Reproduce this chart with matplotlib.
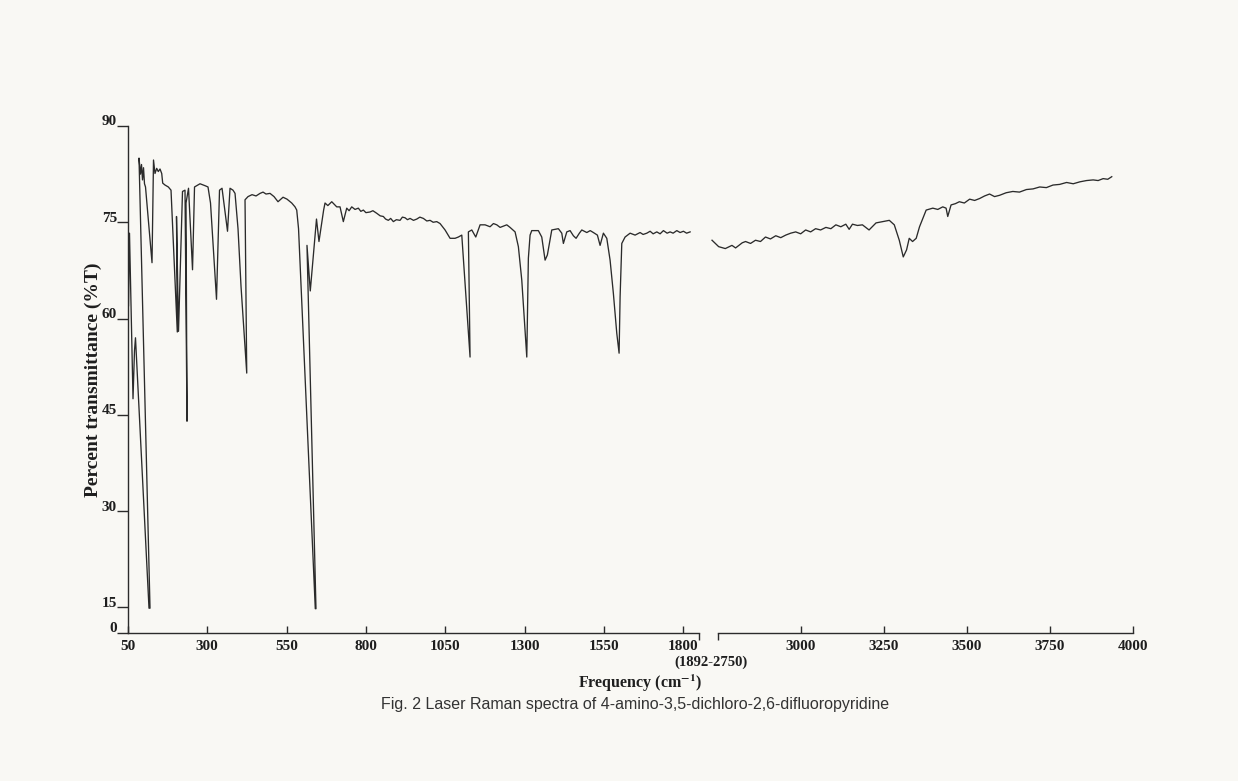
import numpy as np
import matplotlib
matplotlib.use("Agg")
import matplotlib.pyplot as plt
from matplotlib.transforms import ScaledTranslation

# Raman trace, low-frequency part (cm-1, %T) in drawing order
left_wn = [51.6, 54.7, 59.5, 65.8, 70.5, 73.6, 116.2, 119.4, 84.7, 89.4, 92.6, 95.7,
           98.9, 102.0, 105.2, 125.7, 130.4, 135.1, 140.5, 145.5, 150.9, 156.3, 159.4,
           166.7, 177.1, 185.6, 205.4, 202.9, 209.2, 221.8, 229.7, 236.0, 232.9, 240.8,
           253.4, 259.7, 277.0, 292.8, 302.2, 310.1, 329.0, 338.5, 346.4, 363.7, 371.6,
           381.0, 387.4, 396.8, 406.3, 424.3, 418.9, 428.4, 441.0, 453.6, 466.2, 475.7,
           485.1, 497.7, 510.3, 522.9, 538.7, 551.3, 566.1, 576.5, 581.9, 587.6, 640.4,
           642.6, 614.2, 624.6, 644.2, 652.0, 666.7, 671.1, 680.0, 692.3, 708.0, 718.4,
           728.8, 739.5, 747.0, 755.3, 765.7, 776.1, 784.0, 791.9, 800.0, 813.0, 822.0,
           834.1, 845.0, 855.0, 862.0, 870.7, 878.0, 886.5, 896.0, 907.6, 915.0, 923.4,
           931.0, 939.1, 950.0, 960.3, 970.0, 981.1, 992.0, 1002.2, 1012.0, 1023.3,
           1033.7, 1049.5, 1065.3, 1081.0, 1091.4, 1102.2, 1128.3, 1123.0, 1133.7,
           1146.3, 1159.9, 1175.6, 1191.4, 1202.0, 1212.5, 1223.0, 1233.3, 1244.0,
           1254.4, 1270.2, 1280.6, 1291.3, 1307.1, 1312.1, 1317.5, 1322.8, 1343.6,
           1354.3, 1364.8, 1372.0, 1385.9, 1406.7, 1417.4, 1422.5, 1433.2, 1443.6,
           1454.0, 1462.5, 1472.9, 1480.5, 1496.3, 1507.0, 1517.1, 1529.7, 1538.2,
           1548.6, 1559.3, 1569.7, 1580.1, 1590.8, 1598.1, 1601.3, 1606.6, 1617.0,
           1632.8, 1648.6, 1664.3, 1673.8, 1685.5, 1695.9, 1705.4, 1717.0, 1727.4,
           1737.8, 1749.5, 1758.9, 1768.4, 1780.0, 1790.5, 1800.9, 1811.0, 1822.0]
left_t = [62.0, 73.3, 62.0, 47.5, 55.0, 57.0, 14.5, 14.5, 85.0, 82.5, 84.0, 81.6,
          83.5, 81.0, 80.5, 68.7, 84.7, 82.6, 83.4, 82.9, 83.3, 82.6, 81.1,
          80.8, 80.5, 80.0, 57.9, 75.9, 58.0, 79.8, 80.0, 44.0, 78.0, 80.3,
          67.6, 80.5, 81.0, 80.7, 80.5, 78.0, 63.0, 80.0, 80.3, 73.6, 80.3,
          80.0, 79.5, 74.0, 65.0, 51.5, 78.5, 79.0, 79.3, 79.1, 79.5, 79.7,
          79.4, 79.5, 79.0, 78.2, 78.9, 78.6, 78.0, 77.4, 76.9, 74.0, 14.2,
          14.2, 71.4, 64.3, 75.5, 72.0, 76.9, 78.0, 77.6, 78.2, 77.4, 77.4,
          75.1, 77.2, 76.8, 77.4, 77.0, 77.2, 76.7, 76.9, 76.5, 76.6, 76.8,
          76.4, 76.0, 75.9, 75.5, 75.3, 75.6, 75.1, 75.4, 75.3, 75.8, 75.7,
          75.4, 75.6, 75.3, 75.5, 75.8, 75.6, 75.2, 75.3, 75.0, 75.1,
          74.8, 73.8, 72.5, 72.5, 72.7, 73.0, 54.0, 73.5, 73.8,
          72.7, 74.6, 74.6, 74.3, 74.8, 74.6, 74.2, 74.4, 74.6,
          74.2, 73.5, 71.2, 66.0, 54.0, 69.4, 73.0, 73.7, 73.7,
          72.7, 69.1, 69.9, 73.8, 74.0, 73.3, 71.7, 73.5, 73.7,
          72.9, 72.5, 73.3, 73.8, 73.4, 73.7, 73.4, 73.0, 71.4,
          73.3, 72.5, 69.1, 63.9, 57.7, 54.6, 63.4, 71.7, 72.7,
          73.3, 73.0, 73.4, 73.1, 73.3, 73.6, 73.2, 73.5, 73.2,
          73.7, 73.3, 73.5, 73.3, 73.7, 73.4, 73.6, 73.3, 73.5]

# high-frequency part
right_wn = [2732, 2752, 2772, 2792, 2803, 2813, 2823, 2833, 2848, 2863, 2878, 2893,
            2908, 2924, 2939, 2954, 2969, 2984, 2999, 3014, 3029, 3044, 3059, 3075,
            3090, 3105, 3120, 3135, 3145, 3155, 3170, 3185, 3205, 3226, 3246, 3266,
            3281, 3296, 3308, 3318, 3326, 3336, 3347, 3357, 3377, 3397, 3412, 3427,
            3437, 3442, 3452, 3465, 3477, 3492, 3508, 3523, 3538, 3553, 3568, 3583,
            3598, 3618, 3638, 3658, 3679, 3699, 3719, 3739, 3759, 3779, 3800, 3820,
            3840, 3860, 3880, 3895, 3910, 3924, 3936]
right_t = [72.2, 71.2, 70.9, 71.4, 71.0, 71.4, 71.8, 72.0, 71.7, 72.2, 72.0, 72.7,
           72.4, 72.9, 72.6, 73.0, 73.3, 73.5, 73.2, 73.8, 73.5, 74.0, 73.8, 74.2,
           74.0, 74.6, 74.3, 74.7, 73.9, 74.7, 74.5, 74.6, 73.8, 74.9, 75.1, 75.3,
           74.6, 72.2, 69.6, 70.7, 72.5, 72.0, 72.5, 74.3, 76.9, 77.2, 77.0, 77.4,
           77.2, 75.9, 77.7, 77.9, 78.2, 78.0, 78.6, 78.4, 78.7, 79.1, 79.4, 79.0,
           79.2, 79.6, 79.8, 79.7, 80.1, 80.2, 80.5, 80.4, 80.8, 80.9, 81.2, 81.0,
           81.3, 81.5, 81.6, 81.5, 81.8, 81.7, 82.1]

left_ticks = [50, 300, 550, 800, 1050, 1300, 1550, 1800]
right_ticks = [3000, 3250, 3500, 3750, 4000]
y_ticks = [0, 15, 30, 45, 60, 75, 90]


def fwd(y):
    y = np.asarray(y, dtype=float)
    return np.where(y < 15, 15 - (15 - y) * 4 / 15, y)


def inv(y):
    y = np.asarray(y, dtype=float)
    return np.where(y < 15, 15 - (15 - y) * 15 / 4, y)


paper = "#f9f8f4"
ink = "#2b2b2b"
serif = ["Liberation Serif", "DejaVu Serif"]
plt.rcParams["mathtext.fontset"] = "stix"

fig = plt.figure(figsize=(12.38, 7.81), dpi=100, facecolor=paper)
bottom, height = 148 / 781, 507 / 781
ax1 = fig.add_axes([128 / 1238, bottom, 571 / 1238, height])
ax2 = fig.add_axes([718 / 1238, bottom, 415 / 1238, height])

ax1.plot(left_wn, left_t, color=ink, lw=0.95)
ax2.plot(right_wn, right_t, color=ink, lw=0.95, clip_on=False)

for ax in (ax1, ax2):
    ax.set_facecolor("none")
    ax.set_yscale("function", functions=(fwd, inv))
    ax.set_ylim(0, 90)
    for s in ("top", "right"):
        ax.spines[s].set_visible(False)
    ax.spines["bottom"].set_color(ink)
    ax.spines["bottom"].set_linewidth(1.0)
    ax.tick_params(axis="x", which="major", direction="in", length=5, width=1,
                   color=ink, labelsize=11, labelcolor="#1e1e1e", pad=5)
    ax.tick_params(axis="x", which="minor", direction="out", length=5, width=1,
                   color=ink)

ax1.set_xlim(50, 1850)
ax1.set_xticks(left_ticks)
ax1.set_xticks([1850], minor=True)
ax1.set_xticklabels([str(t) for t in left_ticks], family=serif, fontweight="bold")
ax1.spines["left"].set_color(ink)
ax1.spines["left"].set_linewidth(1.0)
ax1.set_yticks(y_ticks)
ax1.set_yticks([], minor=True)
ax1.set_yticklabels([str(t) for t in y_ticks], family=serif, fontweight="bold")
ax1.tick_params(axis="y", direction="out", length=8, width=1, color=ink,
                labelsize=11, labelcolor="#1e1e1e", pad=0)
for lab in ax1.get_yticklabels():
    lab.set_transform(lab.get_transform() + ScaledTranslation(0, 4 / 72, fig.dpi_scale_trans))
ax1.set_ylabel("Percent transmittance (%T)", family=serif, fontweight="bold",
               fontsize=14, color="#1e1e1e", labelpad=0)

ax2.set_xlim(2750, 4000)
ax2.set_xticks(right_ticks)
ax2.set_xticks([2750], minor=True)
ax2.set_xticklabels([str(t) for t in right_ticks], family=serif, fontweight="bold")
ax2.spines["left"].set_visible(False)
ax2.yaxis.set_visible(False)

fig.text(711 / 1238, 1 - 662 / 781, "(1892-2750)", family=serif, fontweight="bold",
         fontsize=10.5, color="#1e1e1e", ha="center", va="center")
fig.text(640 / 1238, 1 - 683 / 781, r"Frequency (cm$^{\mathbf{-1}}$)", family=serif,
         fontweight="bold", fontsize=11.5, color="#1e1e1e", ha="center", va="center")
fig.text(635 / 1238, 1 - 704 / 781,
         "Fig. 2 Laser Raman spectra of 4-amino-3,5-dichloro-2,6-difluoropyridine",
         family="Liberation Sans", fontsize=11.5, color="#333333", ha="center", va="center")

fig.savefig("out.png", dpi=100, facecolor=paper)
